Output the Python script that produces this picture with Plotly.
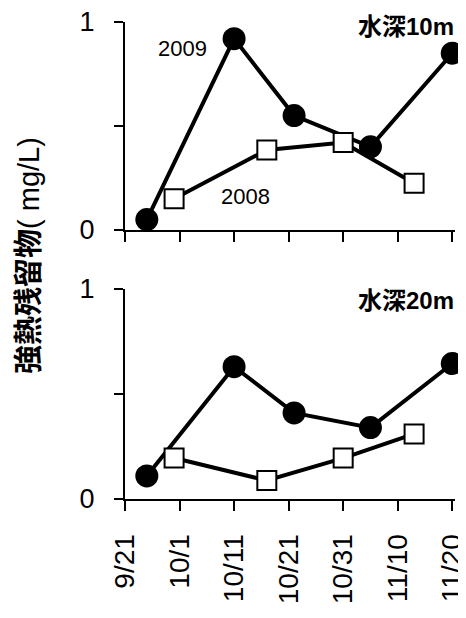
import plotly.graph_objects as go

# Data (month-day, plotted on a common year axis)
dates_2009 = ["09-25", "10-11", "10-22", "11-05", "11-20"]
dates_2008 = ["09-30", "10-17", "10-31", "11-13"]
top_2009 = [0.05, 0.92, 0.55, 0.40, 0.85]
top_2008 = [0.15, 0.385, 0.42, 0.225]
bot_2009 = [0.11, 0.63, 0.41, 0.34, 0.645]
bot_2008 = [0.195, 0.088, 0.195, 0.31]
tick_dates = ["09-21", "10-01", "10-11", "10-21", "10-31", "11-10", "11-20"]
tick_labels = ["9/21", "10/1", "10/11", "10/21", "10/31", "11/10", "11/20"]
y_title_main = "強熱残留物"
y_title_unit = "( mg/L)"
panel_labels = ["水深10m", "水深20m"]

def d(md):
    return "2009-" + md

x09 = [d(v) for v in dates_2009]
x08 = [d(v) for v in dates_2008]
tv = [d(v) for v in tick_dates]

FONT = "Liberation Sans, Arial, Noto Sans CJK JP, sans-serif"

W, H = 458, 610
ML, MR, MT, MB = 117, 11, 14, 119

fig = go.Figure()
for (yv09, yv08, xa, ya) in [(top_2009, top_2008, "x", "y"), (bot_2009, bot_2008, "x2", "y2")]:
    fig.add_trace(go.Scatter(x=x09, y=yv09, xaxis=xa, yaxis=ya, mode="lines+markers",
                             line=dict(color="black", width=4),
                             marker=dict(symbol="circle", size=23, color="black"),
                             cliponaxis=False, showlegend=False))
    fig.add_trace(go.Scatter(x=x08, y=yv08, xaxis=xa, yaxis=ya, mode="lines+markers",
                             line=dict(color="black", width=4),
                             marker=dict(symbol="square", size=19, color="white",
                                         line=dict(color="black", width=2)),
                             cliponaxis=False, showlegend=False))

xcommon = dict(type="date", range=[d("09-21"), "2009-11-20 12:00"], tickvals=tv,
               showline=True, linecolor="black", linewidth=2, ticks="outside",
               ticklen=10, tickwidth=2, tickcolor="black", showgrid=False, zeroline=False,
               automargin=False, ticklabeloverflow="allow")
ycommon = dict(range=[0, 1], tickvals=[0, 0.5, 1], ticktext=["0", "", "1"],
               showline=True, linecolor="black", linewidth=2, ticks="outside",
               ticklen=9, tickwidth=2, tickcolor="black", showgrid=False, zeroline=False,
               tickfont=dict(size=27, color="black", family=FONT), ticklabelstandoff=14,
               automargin=False, ticklabeloverflow="allow")

fig.update_layout(
    width=W, height=H,
    margin=dict(l=ML, r=MR, t=MT, b=MB, autoexpand=False),
    plot_bgcolor="white", paper_bgcolor="white",
    xaxis=dict(**xcommon, domain=[0, 1], anchor="y", showticklabels=False),
    yaxis=dict(**ycommon, domain=[0.564, 1], anchor="x"),
    xaxis2=dict(**xcommon, domain=[0, 1], anchor="y2", ticktext=tick_labels,
                tickangle=-90, tickfont=dict(size=28, color="black", family=FONT),
                ticklabelstandoff=12),
    yaxis2=dict(**ycommon, domain=[0, 0.4403], anchor="x2"),
)

fig.add_annotation(x=d("10-01") + " 12:00", y=0.875, xref="x", yref="y", text="2009",
                   showarrow=False, font=dict(size=22, color="black", family=FONT))
fig.add_annotation(x=d("10-13"), y=0.163, xref="x", yref="y", text="2008",
                   showarrow=False, font=dict(size=22, color="black", family=FONT))
fig.add_annotation(x=d("11-11") + " 12:00", y=0.98, xref="x", yref="y",
                   text="<b>" + panel_labels[0] + "</b>",
                   showarrow=False, font=dict(size=24, color="black", family=FONT))
fig.add_annotation(x=d("11-11") + " 12:00", y=0.945, xref="x2", yref="y2",
                   text="<b>" + panel_labels[1] + "</b>",
                   showarrow=False, font=dict(size=24, color="black", family=FONT))
# y title: page position x=29, y=256 (page offset 8px)
px, py = 29 - 8, 256 - 8
fig.add_annotation(x=(px - ML) / (W - ML - MR), y=(H - MB - py) / (H - MT - MB),
                   xref="paper", yref="paper",
                   text="<b>" + y_title_main + "</b>" + y_title_unit,
                   textangle=-90, showarrow=False, xanchor="center", yanchor="middle",
                   font=dict(size=29, color="black", family=FONT))

fig.write_html("out.html")
